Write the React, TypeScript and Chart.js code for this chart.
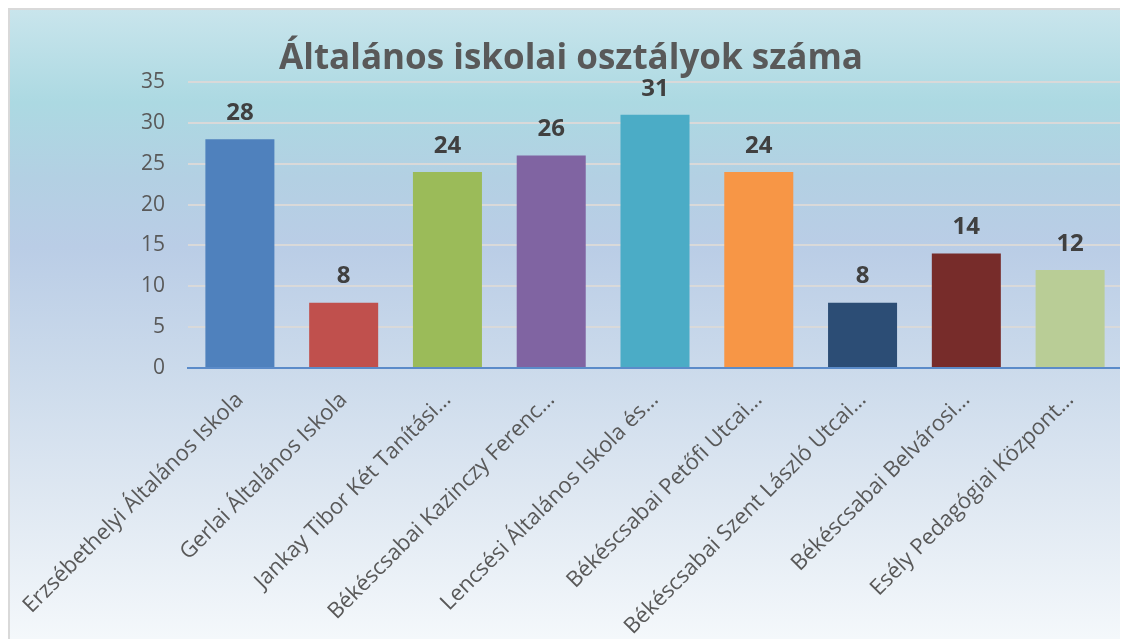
import React, { useEffect, useRef } from "react";
import { Chart, registerables } from "chart.js";

Chart.register(...registerables);

const chartTitle = "Általános iskolai osztályok száma";
const categories = [
  "Erzsébethelyi Általános Iskola",
  "Gerlai Általános Iskola",
  "Jankay Tibor Két Tanítási…",
  "Békéscsabai Kazinczy Ferenc…",
  "Lencsési Általános Iskola és…",
  "Békéscsabai Petőfi Utcai…",
  "Békéscsabai Szent László Utcai…",
  "Békéscsabai Belvárosi…",
  "Esély Pedagógiai Központ…",
];
const classCounts = [28, 8, 24, 26, 31, 24, 8, 14, 12];
const barColors = [
  "#4f81bd",
  "#c0504d",
  "#9bbb59",
  "#8064a2",
  "#4bacc6",
  "#f79646",
  "#2c4d75",
  "#772c2a",
  "#b9cd96",
];
const yMin = 0;
const yMax = 35;
const yStep = 5;

const FONT = "'Open Sans', 'Noto Sans', sans-serif";

const bgPlugin = {
  id: "bgPlugin",
  beforeDraw(chart: any) {
    const { ctx, width, height } = chart;
    ctx.save();
    const g = ctx.createLinearGradient(0, 0, 0, height);
    g.addColorStop(0, "#c9e5ec");
    g.addColorStop(0.15, "#acd9e2");
    g.addColorStop(0.27, "#b3d0e3");
    g.addColorStop(0.38, "#bacde6");
    g.addColorStop(0.57, "#cbdaeb");
    g.addColorStop(0.78, "#dfe8f2");
    g.addColorStop(1, "#f4f8fb");
    ctx.fillStyle = g;
    ctx.fillRect(0, 0, width, height);
    ctx.strokeStyle = "#d9d9d9";
    ctx.lineWidth = 2;
    ctx.beginPath();
    ctx.moveTo(1, height);
    ctx.lineTo(1, 1);
    ctx.lineTo(width, 1);
    ctx.stroke();
    ctx.restore();
  },
};

const labelPlugin = {
  id: "labelPlugin",
  afterDatasetsDraw(chart: any) {
    const { ctx } = chart;
    const meta = chart.getDatasetMeta(0);
    ctx.save();
    ctx.font = `bold 24px ${FONT}`;
    ctx.fillStyle = "#404040";
    ctx.textAlign = "center";
    ctx.textBaseline = "middle";
    meta.data.forEach((bar: any, i: number) => {
      ctx.fillText(String(classCounts[i]), bar.x, bar.y - 26);
    });
    // title
    ctx.font = `bold 35px ${FONT}`;
    ctx.fillStyle = "#595959";
    ctx.textBaseline = "middle";
    ctx.fillText(chartTitle, 563, 51);
    ctx.restore();
  },
};

export default function App() {
  const ref = useRef<HTMLCanvasElement | null>(null);
  useEffect(() => {
    if (!ref.current) return;
    const chart = new Chart(ref.current, {
      type: "bar",
      data: {
        labels: categories,
        datasets: [
          {
            data: classCounts,
            backgroundColor: barColors,
            borderWidth: 0,
            categoryPercentage: 1,
            barPercentage: 0.665,
          },
        ],
      },
      options: {
        animation: false,
        responsive: false,
        maintainAspectRatio: false,
        layout: { padding: { left: 0, right: 6, top: 74, bottom: 0 } },
        plugins: {
          legend: { display: false },
          title: { display: false },
          tooltip: { enabled: false },
        },
        scales: {
          x: {
            grid: { display: false, drawTicks: false },
            border: { display: true, color: "#5b8bc9", width: 2 },
            ticks: {
              color: "#595959",
              font: { family: FONT, size: 22 },
              maxRotation: 45,
              minRotation: 45,
              autoSkip: false,
              padding: 19,
            },
            afterFit(scale: any) {
              scale.height = 271;
              scale.paddingLeft = 0;
              scale.paddingRight = 0;
            },
          },
          y: {
            min: yMin,
            max: yMax,
            grid: { color: "#d9d9d9", lineWidth: 2, drawTicks: false },
            border: { display: false },
            ticks: {
              stepSize: yStep,
              color: "#595959",
              font: { family: FONT, size: 21 },
              padding: 23,
            },
            afterFit(scale: any) {
              scale.width = 180;
              scale.paddingTop = 0;
              scale.paddingBottom = 0;
            },
          },
        },
      },
      plugins: [bgPlugin, labelPlugin],
    });
    return () => chart.destroy();
  }, []);
  return (
    <div style={{ width: 1120, height: 631 }}>
      <canvas ref={ref} width={1120} height={631} style={{ display: "block" }} />
    </div>
  );
}
